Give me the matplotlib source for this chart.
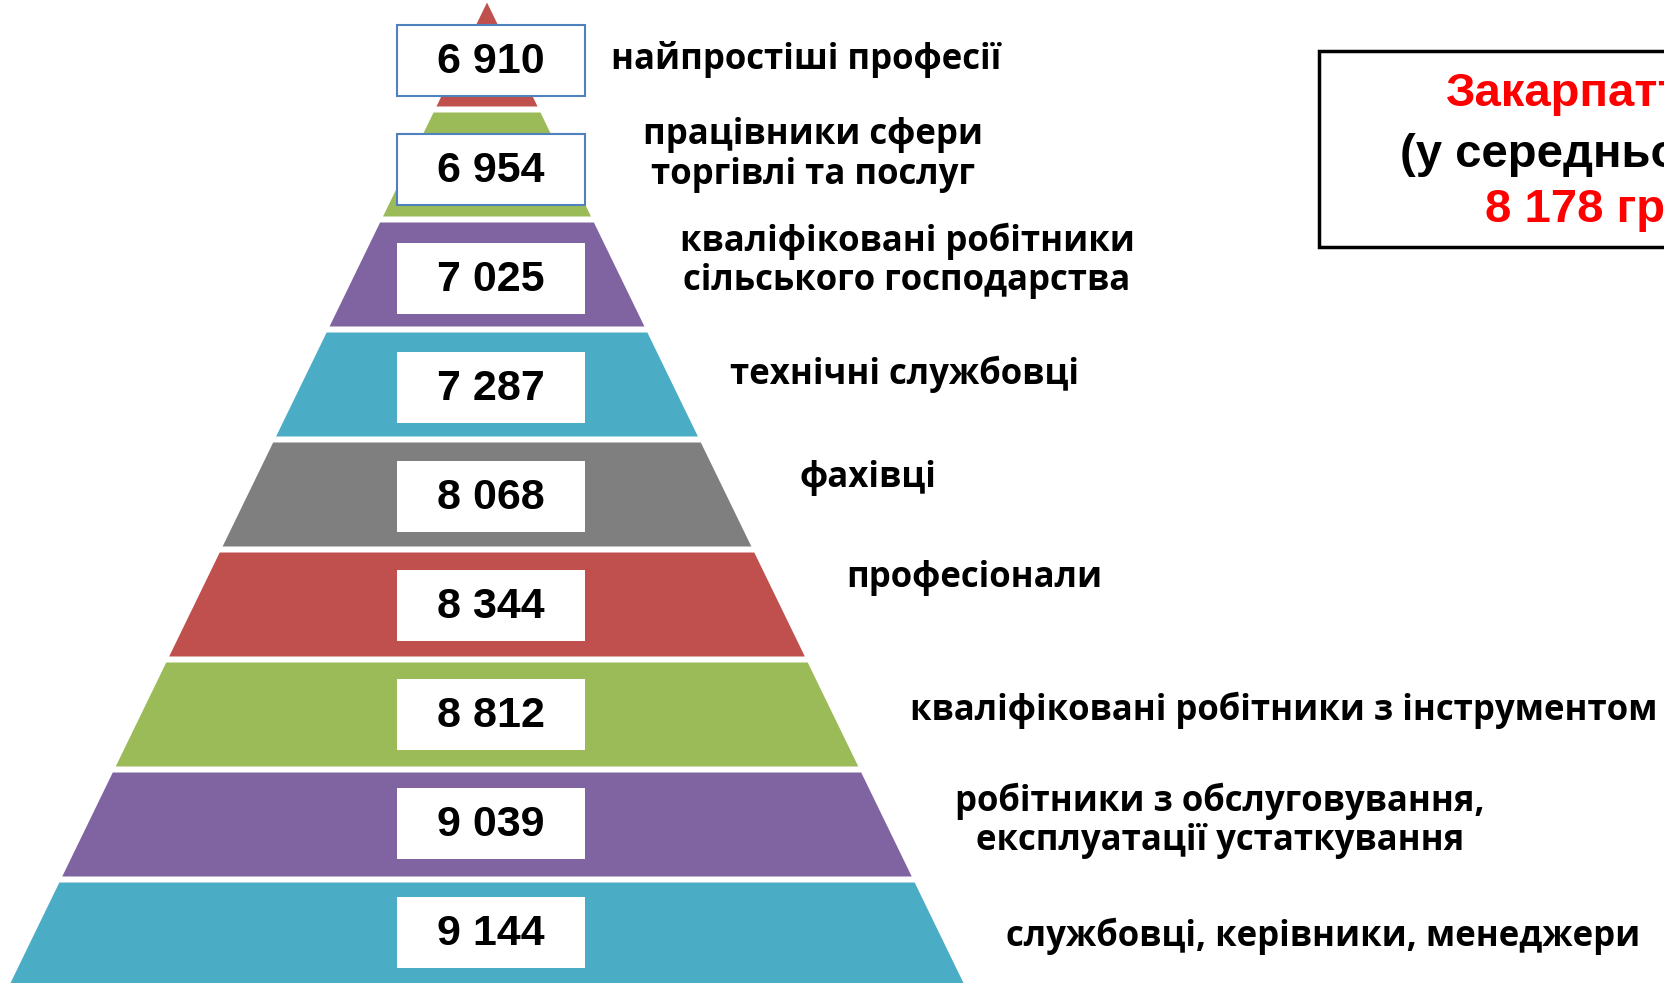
import matplotlib.pyplot as plt
from matplotlib.patches import Polygon, Rectangle

# levels from top of the pyramid to the bottom
values = ['6 910', '6 954', '7 025', '7 287', '8 068', '8 344', '8 812', '9 039', '9 144']
labels = ['найпростіші професії',
          'працівники сфери\nторгівлі та послуг',
          'кваліфіковані робітники\nсільського господарства',
          'технічні службовці',
          'фахівці',
          'професіонали',
          'кваліфіковані робітники з інструментом',
          'робітники з обслуговування,\nексплуатації устаткування',
          'службовці, керівники, менеджери']
colors = ['#C0504D', '#9BBB59', '#8064A2', '#4BACC6', '#7F7F7F',
          '#C0504D', '#9BBB59', '#8064A2', '#4BACC6']
region = 'Закарпаття'
avg_note = '(у середньому)'
avg_value = '8 178 грн'

# layout (pixels)
W, H = 1664, 983
cx = 487
apex = 2.5
slope = 476.5 / (983 - apex)
pitch = 110
band_h = 104
first_top = 112.5 - pitch
label_pos = [(806, 60), (813, 155), (907, 261), (905, 374), (868, 478),
             (974, 578), (1284, 710), (1220, 821), (1323, 936)]

fig = plt.figure(figsize=(W / 100, H / 100), dpi=100)
ax = fig.add_axes([0, 0, 1, 1])
ax.set_xlim(0, W)
ax.set_ylim(H, 0)
ax.axis('off')

for i, (val, lab, col) in enumerate(zip(values, labels, colors)):
    top = max(first_top + i * pitch, apex)
    bot = first_top + i * pitch + band_h
    ht = (top - apex) * slope
    hb = (bot - apex) * slope
    ax.add_patch(Polygon([(cx - ht, top), (cx + ht, top), (cx + hb, bot), (cx - hb, bot)],
                         closed=True, facecolor=col, edgecolor='none'))
    by = 60 + i * 109
    edge = '#4F81BD' if i < 2 else 'none'
    ax.add_patch(Rectangle((397, by - 35.5), 188, 71, facecolor='white',
                           edgecolor=edge, linewidth=1.5, zorder=3))
    ax.text(491, by + 2, val, ha='center', va='center', fontsize=31,
            fontweight='bold', family='Liberation Sans', zorder=4)
    lx, ly = label_pos[i]
    ax.text(lx, ly, lab, ha='center', va='center', multialignment='center',
            fontsize=25, fontweight='bold', family='Open Sans', linespacing=1.13)

# average box on the right (runs off the slide edge, as in the source)
ax.add_patch(Rectangle((1319, 51), 520, 196, facecolor='white',
                       edgecolor='black', linewidth=2.5, zorder=2))
ax.text(1578, 94, region, ha='center', va='center', fontsize=34, fontweight='bold',
        color='#FF0000', family='Liberation Sans', zorder=3)
ax.text(1578, 155, avg_note, ha='center', va='center', fontsize=34, fontweight='bold',
        color='black', family='Liberation Sans', zorder=3)
ax.text(1589, 210, avg_value, ha='center', va='center', fontsize=34, fontweight='bold',
        color='#FF0000', family='Liberation Sans', zorder=3)

fig.savefig('out.png', dpi=100)
